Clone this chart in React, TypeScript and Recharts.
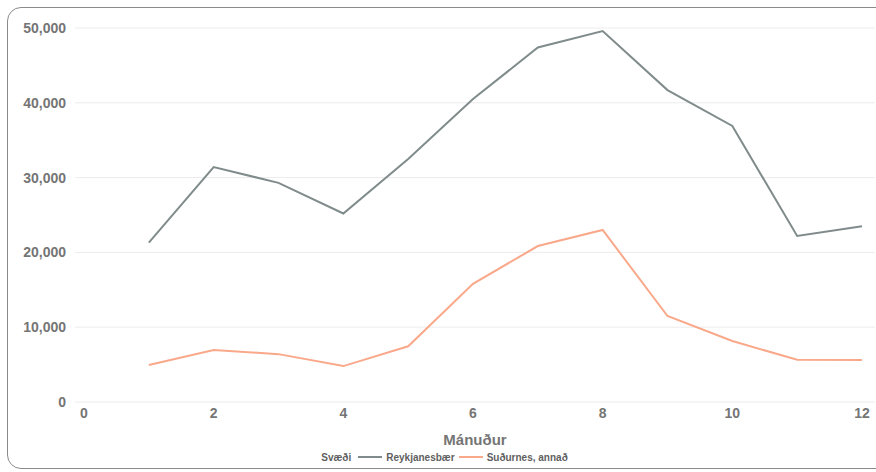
import React from 'react';
import { LineChart, Line, XAxis, YAxis, CartesianGrid, Legend } from 'recharts';

const months = [1, 2, 3, 4, 5, 6, 7, 8, 9, 10, 11, 12];
const reykjanesbaer = [21300, 31400, 29300, 25200, 32500, 40500, 47400, 49600, 41700, 36900, 22200, 23500];
const sudurnes = [4950, 6950, 6400, 4800, 7450, 15800, 20850, 23000, 11500, 8150, 5650, 5600];
const xTicks = [0, 2, 4, 6, 8, 10, 12];
const yTicks = [0, 10000, 20000, 30000, 40000, 50000];
const seriesNames = ['Reykjanesbær', 'Suðurnes, annað'];
const legendTitle = 'Svæði';
const xTitle = 'Mánuður';

const data = months.map((m, i) => ({ m, r: reykjanesbaer[i], s: sudurnes[i] }));

const FONT = '"Liberation Sans", Arial, sans-serif';
const TEXT = '#757575';
const GREY = '#808b8b';
const SALMON = '#f9a88a';

const fmt = (v: number) => v.toLocaleString('en-US');

const LegendContent = () => (
  <div style={{ display: 'flex', justifyContent: 'center', alignItems: 'center', fontFamily: FONT, fontSize: 10, fontWeight: 700, color: '#5f5f5f', height: 20, paddingLeft: 18 }}>
    <span style={{ marginRight: 7 }}>{legendTitle}</span>
    {[GREY, SALMON].map((c, i) => (
      <span key={i} style={{ display: 'flex', alignItems: 'center', marginRight: 4 }}>
        <span style={{ display: 'inline-block', width: 24, height: 2, background: c, marginRight: 4 }} />
        <span>{seriesNames[i]}</span>
      </span>
    ))}
  </div>
);

export default function App() {
  return (
    <div style={{ position: 'absolute', left: 0, top: 0, width: 876, height: 472, overflow: 'hidden', background: '#fff' }}>
      <div style={{ position: 'absolute', left: 7, top: 7, width: 890, height: 462, border: '1px solid #8a8a8a', borderRadius: 14, boxSizing: 'border-box' }} />
      <div style={{ position: 'absolute', left: 0, top: 0 }}>
        <LineChart width={876} height={472} data={data} margin={{ top: 28, right: 1, left: 0, bottom: 5 }}>
          <CartesianGrid horizontal vertical={false} stroke="#ececec" />
          <XAxis
            dataKey="m"
            type="number"
            domain={[0, 12]}
            ticks={xTicks}
            padding={{ left: 9, right: 13 }}
            tickLine={false}
            axisLine={false}
            tickSize={0}
            tickMargin={6}
            height={45}
            tick={{ fill: TEXT, fontSize: 14, fontWeight: 700, fontFamily: FONT }}
            label={{ value: xTitle, position: 'insideBottom', offset: 2, fill: TEXT, fontSize: 15, fontWeight: 700, fontFamily: FONT }}
          />
          <YAxis
            domain={[0, 50000]}
            ticks={yTicks}
            tickFormatter={fmt}
            width={75}
            tickLine={false}
            axisLine={false}
            tickSize={0}
            tickMargin={9}
            tick={{ fill: TEXT, fontSize: 14, fontWeight: 700, fontFamily: FONT }}
          />
          <Legend verticalAlign="bottom" height={20} content={<LegendContent />} />
          <Line dataKey="r" name={seriesNames[0]} stroke={GREY} strokeWidth={2} dot={false} isAnimationActive={false} />
          <Line dataKey="s" name={seriesNames[1]} stroke={SALMON} strokeWidth={2} dot={false} isAnimationActive={false} />
        </LineChart>
      </div>
    </div>
  );
}
